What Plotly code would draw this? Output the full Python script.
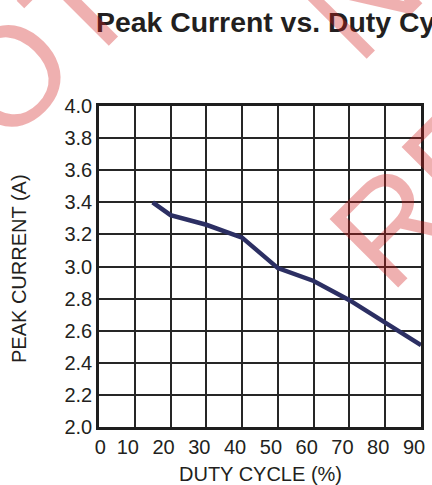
import plotly.graph_objects as go

# ---- data ----
duty_cycle = [15, 20, 30, 40, 50, 60, 70, 80, 90]
peak_current = [3.40, 3.32, 3.26, 3.18, 2.99, 2.91, 2.79, 2.65, 2.51]

x_tick_vals = [0, 10, 20, 30, 40, 50, 60, 70, 80, 90]
x_tick_text = ["\u00a0\u00a0\u00a00", "10", "20", "30", "40", "50", "60", "70", "80", "90"]
y_tick_vals = [2.0, 2.2, 2.4, 2.6, 2.8, 3.0, 3.2, 3.4, 3.6, 3.8, 4.0]
y_tick_text = ["2.0", "2.2", "2.4", "2.6", "2.8", "3.0", "3.2", "3.4", "3.6", "3.8", "4.0"]

title_text = "Peak Current vs. Duty Cycle"
x_title = "DUTY CYCLE (%)"
y_title = "PEAK CURRENT (A)"
watermark_lines = ["NOT", "NEW", "RE"]

# ---- layout geometry (pixels) ----
W, H = 432, 485
L, R, T, B = 99, 11, 106, 58
PW, PH = W - L - R, H - T - B
FONT = "Liberation Sans, Arial, Helvetica, sans-serif"
TXT = "#231f20"


def px(xp):
    return (xp - L) / PW


def py(yp):
    return (H - B - yp) / PH


fig = go.Figure()
fig.add_trace(go.Scatter(
    x=duty_cycle, y=peak_current, mode="lines",
    line=dict(color="#2c2f63", width=4.5),
    hoverinfo="skip", showlegend=False,
))

axis_common = dict(
    showgrid=True, gridcolor="#262626", gridwidth=1.6,
    showline=True, linecolor="#1e1e1e", linewidth=2.6, mirror=True,
    zeroline=False, ticks="", fixedrange=True,
    tickfont=dict(family=FONT, size=20, color=TXT),
)

fig.update_layout(
    width=W, height=H,
    margin=dict(l=L, r=R, t=T, b=B, autoexpand=False),
    paper_bgcolor="white", plot_bgcolor="white",
    showlegend=False,
    xaxis=dict(range=[0, 90], tickmode="array", tickvals=x_tick_vals,
               ticktext=x_tick_text, ticklabelshift=-7, **axis_common),
    yaxis=dict(range=[2.0, 4.0], tickmode="array", tickvals=y_tick_vals,
               ticktext=y_tick_text, **axis_common),
)

annotations = [
    dict(text="<b>" + title_text + "</b>", xref="paper", yref="paper",
         x=px(93.5), y=py(22), xanchor="left", yanchor="middle",
         showarrow=False, font=dict(family=FONT, size=28.4, color=TXT)),
    dict(text=x_title, xref="paper", yref="paper",
         x=px(260), y=py(474), xanchor="center", yanchor="middle",
         showarrow=False, font=dict(family=FONT, size=20, color=TXT)),
    dict(text=y_title, xref="paper", yref="paper", textangle=-90,
         x=px(19), y=py(269), xanchor="center", yanchor="middle",
         showarrow=False, font=dict(family=FONT, size=20, color=TXT)),
]

wm_centers = [(4.2, 80.8), (440.3, -83.7), (424.6, 192.2)]
for txt, (cx, cy) in zip(watermark_lines, wm_centers):
    annotations.append(dict(
        text=txt, xref="paper", yref="paper", textangle=-45,
        x=px(cx), y=py(cy), xanchor="center", yanchor="middle",
        showarrow=False,
        font=dict(family=FONT, size=141, color="rgba(210,30,30,0.35)"),
    ))

fig.update_layout(annotations=annotations)
fig.write_html(
    "out.html",
    config={"displayModeBar": False},
    post_script="document.body.style.margin='0';document.body.style.overflow='hidden';",
)
